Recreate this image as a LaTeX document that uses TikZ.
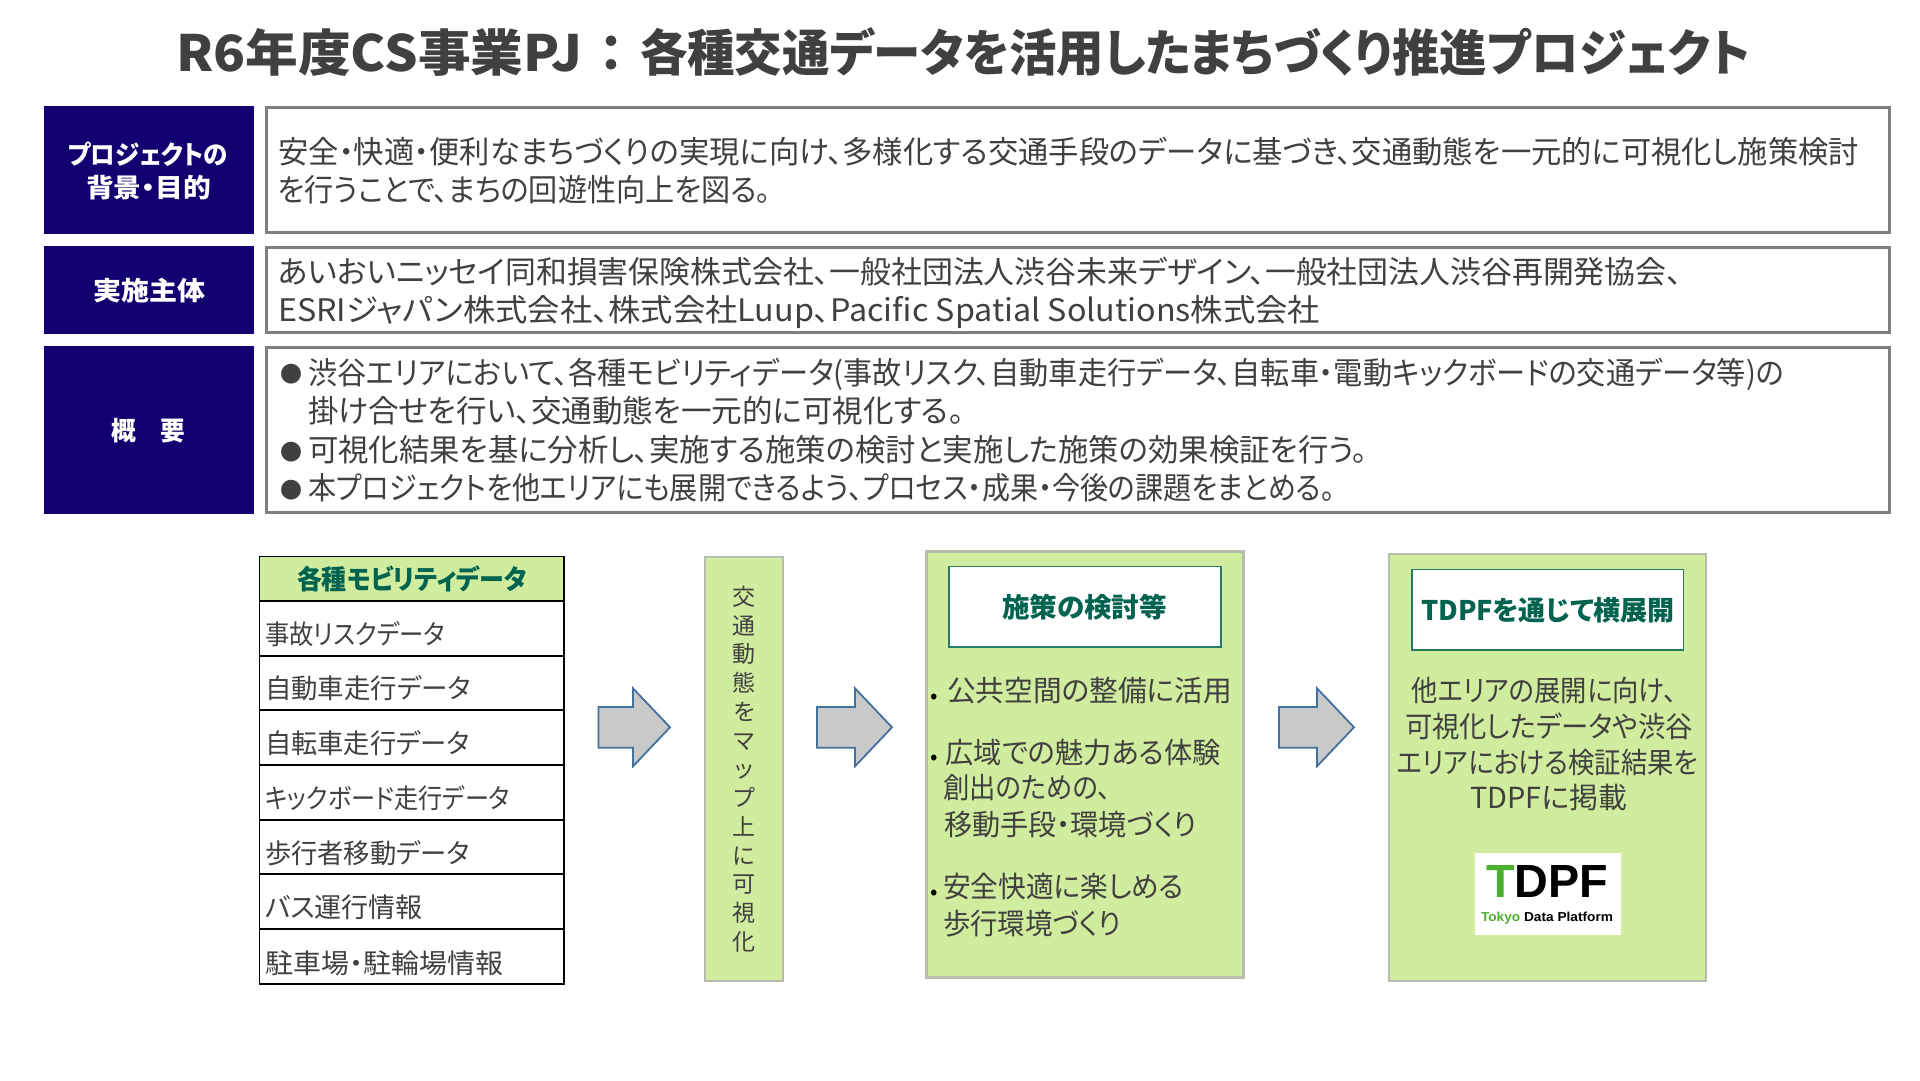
\documentclass[tikz,border=0pt]{standalone}
\usepackage{fontspec}
\usepackage{graphicx}
\setmainfont{Noto Sans CJK JP}[RawFeature=+palt]
\newfontfamily\logofont{Liberation Sans}
\usetikzlibrary{shapes.arrows}
\definecolor{navy}{HTML}{100070}
\definecolor{ink}{HTML}{404040}
\definecolor{leaf}{HTML}{D0EC9E}
\definecolor{teal}{HTML}{00634F}
\definecolor{edgegray}{HTML}{7F7F7F}
\definecolor{softgray}{HTML}{B8BDB0}
\definecolor{arrowblue}{HTML}{41719C}
\definecolor{arrowfill}{HTML}{C9C9C9}
\definecolor{logogreen}{HTML}{4CAF30}
\newcommand{\tl}[7][ink]{\node[txt,text=#1] (#2) at (#3,#4) {\fontsize{#6}{#6}\selectfont\resizebox{#5pt}{\height}{#7}};}
\newcommand{\bx}[6]{\node[#2,anchor=north west,minimum width={#5-#3},minimum height={#6-#4}] (#1) at (#3,#4) {};}
\tikzset{
 txt/.style={anchor=base west,inner sep=0,outer sep=0},
 dotmark/.style={anchor=base,inner sep=0,outer sep=0,text=ink,font=\fontsize{22}{22}\selectfont},
 head/.style={fill=navy,draw=none,inner sep=0,outer sep=0},
 frame/.style={fill=white,draw=edgegray,line width=3.4pt,inner sep=0,outer sep=0},
 cell/.style={fill=white,draw=black,line width=1.8pt,inner sep=0,outer sep=0},
 hcell/.style={fill=leaf,draw=black,line width=1.8pt,inner sep=0,outer sep=0},
 panel/.style={fill=leaf,draw=softgray,line width=2.6pt,inner sep=0,outer sep=0},
 inner/.style={fill=white,draw=teal!85!white,line width=1.8pt,inner sep=0,outer sep=0},
 blockarrow/.style={single arrow,fill=arrowfill,draw=arrowblue,line width=1.8pt,inner sep=0,outer sep=0,
   text height=39pt,text depth=0pt,text width=1pt,
   minimum width=76pt,single arrow head extend=18.5pt,single arrow tip angle=93,anchor=tail},
}
\begin{document}
\begin{tikzpicture}[x=1pt,y=-1pt]
\useasboundingbox (0,0) rectangle (1920,1080);
\fill[white] (0,0) rectangle (1920,1080);
% title
\node[txt,text=ink,font=\fontsize{50}{50}\selectfont\bfseries] (title) at (176,71) {\resizebox{406pt}{\height}{R6年度CS事業PJ}\makebox[58pt][c]{：}\resizebox{1110pt}{\height}{各種交通データを活用したまちづくり推進プロジェクト}};
% header bands
\bx{h1}{head}{44}{106}{253.5}{234}
\bx{h2}{head}{44}{246}{253.5}{334}
\bx{h3}{head}{44}{346}{253.5}{514}
\bx{f1}{frame}{266.5}{107.7}{1889.5}{232.5}
\bx{f2}{frame}{266.5}{247.7}{1889.5}{332.5}
\bx{f3}{frame}{266.5}{347.7}{1889.5}{512.5}
\tl[white]{h1a}{68}{164}{160}{26}{\bfseries プロジェクトの}
\tl[white]{h1b}{86}{197}{125}{26}{\bfseries 背景・目的}
\tl[white]{h2a}{93}{300}{112}{26}{\bfseries 実施主体}
\tl[white]{h3a}{111.5}{440}{74}{26}{\bfseries 概　要}
% body text
\tl{b1}{278}{163}{1581}{31}{安全・快適・便利なまちづくりの実現に向け、多様化する交通手段のデータに基づき、交通動態を一元的に可視化し施策検討}
\tl{b2}{278}{201}{493}{31}{を行うことで、まちの回遊性向上を図る。}
\tl{c1}{278}{283}{1404}{31}{あいおいニッセイ同和損害保険株式会社、一般社団法人渋谷未来デザイン、一般社団法人渋谷再開発協会、}
\tl{c2}{278}{321}{1042}{31}{ESRIジャパン株式会社、株式会社Luup、Pacific Spatial Solutions株式会社}
\node[dotmark] (d0) at (291,382.4) {●};
\tl{d1}{308}{384}{1476}{31}{渋谷エリアにおいて、各種モビリティデータ(事故リスク、自動車走行データ、自転車・電動キックボードの交通データ等)の}
\tl{d2}{308}{422}{656}{31}{掛け合せを行い、交通動態を一元的に可視化する。}
\node[dotmark] (e0) at (291,460) {●};
\tl{e1}{308}{461}{1059}{31}{可視化結果を基に分析し、実施する施策の検討と実施した施策の効果検証を行う。}
\node[dotmark] (g0) at (291,498) {●};
\tl{g1}{308}{499}{1027}{31}{本プロジェクトを他エリアにも展開できるよう、プロセス・成果・今後の課題をまとめる。}
% table
\bx{t0}{hcell}{259.5}{556.5}{564}{601}
\bx{t1}{cell}{259.5}{601}{564}{656}
\bx{t2}{cell}{259.5}{656}{564}{710}
\bx{t3}{cell}{259.5}{710}{564}{765}
\bx{t4}{cell}{259.5}{765}{564}{820}
\bx{t5}{cell}{259.5}{820}{564}{874}
\bx{t6}{cell}{259.5}{874}{564}{929}
\bx{t7}{cell}{259.5}{929}{564}{984}
\tl[teal]{t0t}{297}{589}{230}{27}{\bfseries 各種モビリティデータ}
\tl{t1t}{265}{644}{180}{27}{事故リスクデータ}
\tl{t2t}{265}{698}{206}{27}{自動車走行データ}
\tl{t3t}{265}{753}{205}{27}{自転車走行データ}
\tl{t4t}{265}{808}{245}{27}{キックボード走行データ}
\tl{t5t}{265}{863}{205}{27}{歩行者移動データ}
\tl{t6t}{265}{917}{158}{27}{バス運行情報}
\tl{t7t}{265}{973}{238}{27}{駐車場・駐輪場情報}
% arrows
\node[blockarrow,minimum height=71.5pt] (a1) at (598.5,727.3) {};
\node[blockarrow,minimum height=75pt] (a2) at (817,727.3) {};
\node[blockarrow,minimum height=75pt] (a3) at (1279,727.3) {};
% vertical panel
\bx{v}{panel}{705}{557}{783}{981}
\node[inner sep=0,outer sep=0,align=center,text=ink,font=\fontsize{23}{28.75}\selectfont] (vt) at (v.center) {交\\通\\動\\態\\を\\マ\\ッ\\プ\\上\\に\\可\\視\\化};
% panel 3
\bx{p3}{panel}{926.5}{551.5}{1243.5}{977.5}
\bx{p3h}{inner}{949}{566.5}{1221}{647}
\tl[teal]{p3t}{1002}{617}{165}{27}{\bfseries 施策の検討等}
\tl{p3a}{947}{701}{285}{29}{公共空間の整備に活用}
\node[txt,text=black] (p3ab) at (930,703) {\fontsize{22}{22}\selectfont •};
\tl{p3b}{945.5}{763}{275.5}{29}{広域での魅力ある体験}
\node[txt,text=black] (p3bb) at (930,764) {\fontsize{22}{22}\selectfont •};
\tl{p3c}{943}{798}{168}{29}{創出のための、}
\tl{p3d}{944}{835}{253}{29}{移動手段・環境づくり}
\tl{p3e}{943}{897}{241}{29}{安全快適に楽しめる}
\node[txt,text=black] (p3eb) at (930,899) {\fontsize{22}{22}\selectfont •};
\tl{p3f}{943}{934}{178}{29}{歩行環境づくり}
% panel 4
\bx{p4}{panel}{1389}{554}{1706}{981}
\bx{p4h}{inner}{1412}{569.5}{1683.5}{650}
\tl[teal]{p4t}{1421}{620}{254}{27}{\bfseries TDPFを通じて横展開}
\tl{p4a}{1411.5}{701}{265}{29}{他エリアの展開に向け、}
\tl{p4b}{1405}{737}{288}{29}{可視化したデータや渋谷}
\tl{p4c}{1397}{773}{301}{29}{エリアにおける検証結果を}
\tl{p4d}{1470}{808}{157}{29}{TDPFに掲載}
% logo
\bx{lg}{fill=white,draw=none,inner sep=0,outer sep=0}{1474.7}{853}{1621}{935}
\node[txt] (lgm) at (1486,897) {\resizebox{122pt}{32pt}{\logofont\bfseries\textcolor{logogreen}{T}\textcolor{black}{DPF}}};
\node[txt] (lgs) at (1481,921) {\resizebox{132pt}{\height}{\fontsize{13}{13}\logofont\bfseries\textcolor{logogreen}{Tokyo}\textcolor{black}{~Data Platform}}};
\end{tikzpicture}
\end{document}
